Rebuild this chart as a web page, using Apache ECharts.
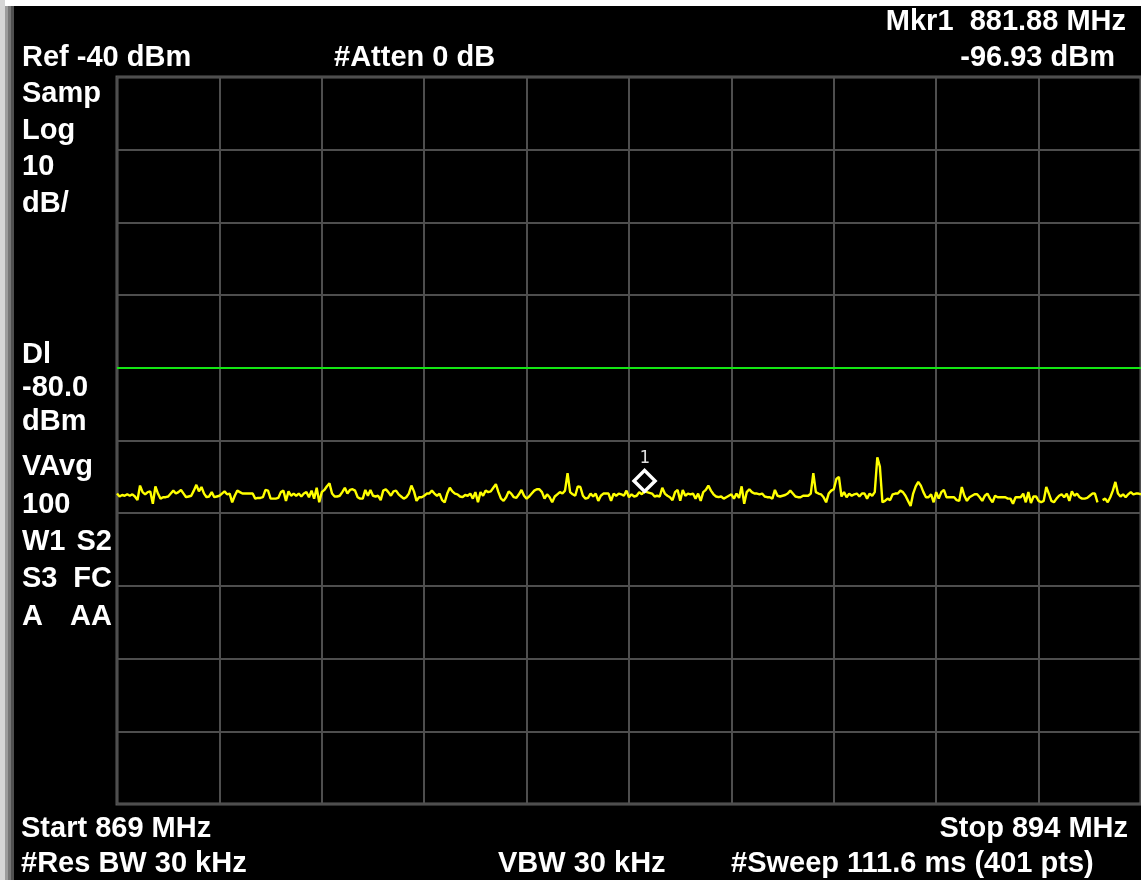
<!DOCTYPE html>
<html><head><meta charset="utf-8">
<script src="https://cdn.jsdelivr.net/npm/echarts/dist/echarts.min.js"></script>
<style>html,body{margin:0;padding:0;background:#000;overflow:hidden}#c{width:1141px;height:880px;}</style>
</head><body><div id="c"></div>
<script>
// ---- data ----
const startMHz = 869;
const stopMHz = 894;
const refLevel = -40;
const dbPerDiv = 10;
const divisions = 10;
const displayLine = -80;
const markerMHz = 881.88;
const markerDbm = -96.93;

const traceA = [
-97.3,-97.7,-97.5,-97.6,-97.4,-97.6,-97.4,-97.7,-98.2,-96.2,
-97.1,-97.4,-97.1,-97.0,-98.7,-96.3,-97.3,-98.0,-97.8,-97.8,
-97.7,-97.3,-96.9,-97.3,-97.1,-96.8,-97.3,-97.8,-97.7,-97.6,
-96.9,-96.1,-97.0,-96.4,-97.3,-97.8,-97.7,-97.1,-97.8,-97.7,
-97.6,-97.3,-97.0,-97.4,-97.3,-98.5,-97.6,-96.9,-97.1,-97.3,
-97.3,-97.3,-97.3,-97.3,-98.0,-97.9,-97.9,-97.8,-96.8,-96.9,
-98.0,-98.0,-98.0,-97.9,-97.1,-96.9,-98.3,-97.0,-97.6,-97.3,
-97.6,-97.3,-97.7,-97.3,-97.1,-97.8,-96.9,-98.0,-96.5,-98.5,
-97.1,-96.8,-96.3,-95.9,-97.3,-97.7,-97.7,-97.6,-97.1,-96.5,
-97.3,-96.8,-96.7,-96.9,-97.8,-98.0,-98.0,-96.8,-97.6,-96.8];
const traceB = [
-97.6,-97.7,-97.6,-98.2,-96.9,-96.7,-97.1,-97.6,-97.0,-96.9,
-97.4,-97.7,-98.0,-97.8,-97.3,-96.2,-97.0,-98.3,-97.8,-97.8,
-97.6,-97.3,-97.3,-96.9,-97.3,-97.6,-97.3,-98.2,-98.5,-97.3,
-96.5,-97.0,-97.3,-97.4,-97.7,-97.8,-97.5,-97.6,-97.3,-98.0,
-97.1,-98.5,-97.1,-97.6,-96.9,-97.1,-97.0,-96.5,-96.0,-97.1,
-98.0,-98.3,-97.8,-97.0,-97.3,-97.8,-97.9,-97.4,-96.8,-97.6,
-98.0,-97.7,-97.3,-96.9,-96.7,-96.7,-97.1,-98.0,-97.4,-97.8,
-98.5,-97.7,-97.4,-97.1,-97.3,-96.9,-94.5,-97.1,-97.4,-97.6,
-96.3,-96.4,-97.6,-98.0,-97.9,-97.3,-97.7,-97.3,-98.3,-97.6,
-97.3,-97.3,-97.3,-98.3,-97.3,-97.6,-97.3,-97.4,-97.6,-96.9];
const traceC = [
-97.8,-97.4,-97.7,-97.6,-97.1,-97.4,-97.0,-97.1,-97.2,-97.3,
-97.7,-97.6,-97.7,-96.5,-97.3,-97.6,-97.8,-98.2,-97.1,-96.8,
-98.3,-96.8,-97.6,-97.3,-97.4,-97.3,-98.0,-97.3,-98.3,-97.1,
-96.8,-96.2,-96.9,-97.4,-97.7,-97.8,-97.7,-98.0,-97.8,-97.6,
-97.4,-98.0,-97.3,-97.9,-96.3,-98.7,-97.1,-96.7,-97.1,-97.3,
-97.3,-97.4,-97.3,-97.7,-97.8,-97.8,-98.0,-96.8,-97.6,-97.7,
-97.6,-97.5,-97.3,-96.9,-97.3,-97.7,-97.8,-97.8,-97.6,-97.6,
-97.6,-97.3,-94.5,-97.1,-97.3,-97.4,-97.8,-98.5,-97.3,-96.9,
-96.7,-95.3,-95.0,-97.7,-97.1,-97.8,-97.3,-97.6,-97.4,-97.3,
-97.7,-97.3,-97.3,-98.0,-97.3,-97.6,-97.1,-92.3,-93.6,-98.5];
const traceD = [
-98.3,-98.0,-98.2,-97.4,-97.3,-97.3,-96.9,-97.1,-97.6,-98.3,
-99.0,-97.3,-96.3,-95.7,-96.2,-97.1,-97.8,-97.8,-97.4,-98.5,
-97.1,-98.0,-97.1,-96.8,-97.8,-97.8,-97.8,-97.8,-98.2,-98.3,
-96.4,-97.6,-98.3,-97.8,-97.6,-97.4,-97.4,-97.8,-98.3,-97.6,
-97.3,-98.0,-98.5,-97.6,-97.8,-97.8,-97.8,-97.8,-98.0,-98.0,
-98.7,-97.8,-97.8,-97.8,-97.3,-98.5,-97.1,-98.6,-97.7,-97.7,
-98.3,-98.5,-98.3,-96.4,-97.3,-98.3,-98.5,-98.0,-97.6,-97.4,
-97.8,-97.3,-98.3,-97.0,-97.6,-97.3,-97.8,-98.0,-98.0,-97.9,
-97.6,-97.3,-97.3,-98.5,null,-98.2,-98.0,-98.5,-97.8,-96.9,
-95.7,-97.3,-97.7,-97.4,-97.8,-97.4,-97.1,-97.4,-97.3,-97.3,
-97.4];

// ---- text ----
const headerLabels = ['Ref -40 dBm', '#Atten 0 dB'];
const markerReadout = ['Mkr1  881.88 MHz', '-96.93 dBm'];
const sideLabels = ['Samp','Log','10','dB/','Dl','-80.0','dBm','VAvg','100','W1','S3','A'];
const sideLabelsRight = ['S2','FC','AA'];
const footerLabels = ['Start 869 MHz','Stop 894 MHz','#Res BW 30 kHz','VBW 30 kHz','#Sweep 111.6 ms (401 pts)'];
const markerName = '1';

// ---- build ----
const trace = traceA.concat(traceB, traceC, traceD);
const span = stopMHz - startMHz;
const seriesData = trace.map((v, i) => [span * i / (trace.length - 1), v]);

const FONT = 'bold 29px "Liberation Sans", Arial, sans-serif';
const sideY = [94,130.5,167,203.5,355,388,422,466.7,505,541.7,579,616.7];
const sideRightY = [541.7,579,616.7];

function txt(t, x, y, align) {
  return {type:'text', x:x, y:y, z:100, silent:true,
    style:{text:t, font:FONT, fill:'#ffffff', textAlign:align||'left', textVerticalAlign:'middle'}};
}
const graphics = [
  {type:'rect', shape:{x:0,y:0,width:1141,height:6}, style:{fill:'#ffffff'}, z:90},
  {type:'rect', shape:{x:0,y:0,width:5,height:880}, style:{fill:'#d6d6d6'}, z:90},
  {type:'rect', shape:{x:5,y:6,width:3,height:874}, style:{fill:'#9c9c9c'}, z:90},
  {type:'rect', shape:{x:8,y:6,width:3,height:874}, style:{fill:'#767676'}, z:90},
  {type:'rect', shape:{x:11,y:6,width:3,height:874}, style:{fill:'#505050'}, z:90},
  txt(headerLabels[0], 22, 58),
  txt(headerLabels[1], 334, 58),
  txt(markerReadout[0], 1126, 22, 'right'),
  txt(markerReadout[1], 1115, 58, 'right'),
  txt(footerLabels[0], 21, 828.5),
  txt(footerLabels[1], 1128, 828.5, 'right'),
  txt(footerLabels[2], 21, 864),
  txt(footerLabels[3], 498, 864),
  txt(footerLabels[4], 731, 864)
];
sideLabels.forEach((t, i) => graphics.push(txt(t, 22, sideY[i])));
sideLabelsRight.forEach((t, i) => graphics.push(txt(t, 112, sideRightY[i], 'right')));

const axisCommon = {
  axisLabel:{show:false}, axisTick:{show:false}, axisLine:{show:false},
  splitLine:{show:true, lineStyle:{color:'#4e4e4e', width:2}}
};

const chart = echarts.init(document.getElementById('c'), null, {renderer:'canvas'});
chart.setOption({
  backgroundColor:'#000000',
  animation:false,
  grid:{left:117, top:77, width:1028, height:727, show:true, borderColor:'#5a5a5a', borderWidth:3, backgroundColor:'transparent'},
  xAxis:Object.assign({type:'value', min:0, max:span, interval:span/10}, axisCommon),
  yAxis:Object.assign({type:'value', min:refLevel - dbPerDiv*divisions, max:refLevel, interval:dbPerDiv}, axisCommon),
  series:[
    {type:'line', data:seriesData, symbol:'none', showSymbol:false, connectNulls:false, z:3,
     lineStyle:{color:'#ffff00', width:2.4},
     markLine:{silent:true, symbol:'none', animation:false, label:{show:false},
       lineStyle:{color:'#14e614', width:2, type:'solid'}, data:[{yAxis:displayLine}]}},
    {type:'scatter', data:[[markerMHz - startMHz, markerDbm]], symbol:'diamond', symbolSize:[21,21], symbolOffset:[0,-10], z:5,
     itemStyle:{color:'#000000', borderColor:'#ffffff', borderWidth:3.5, opacity:1},
     label:{show:true, formatter:markerName, position:'top', distance:2, color:'#e0e0e0', fontFamily:'DejaVu Sans Mono', fontSize:17}}
  ],
  graphic:graphics
});
</script>
</body></html>
